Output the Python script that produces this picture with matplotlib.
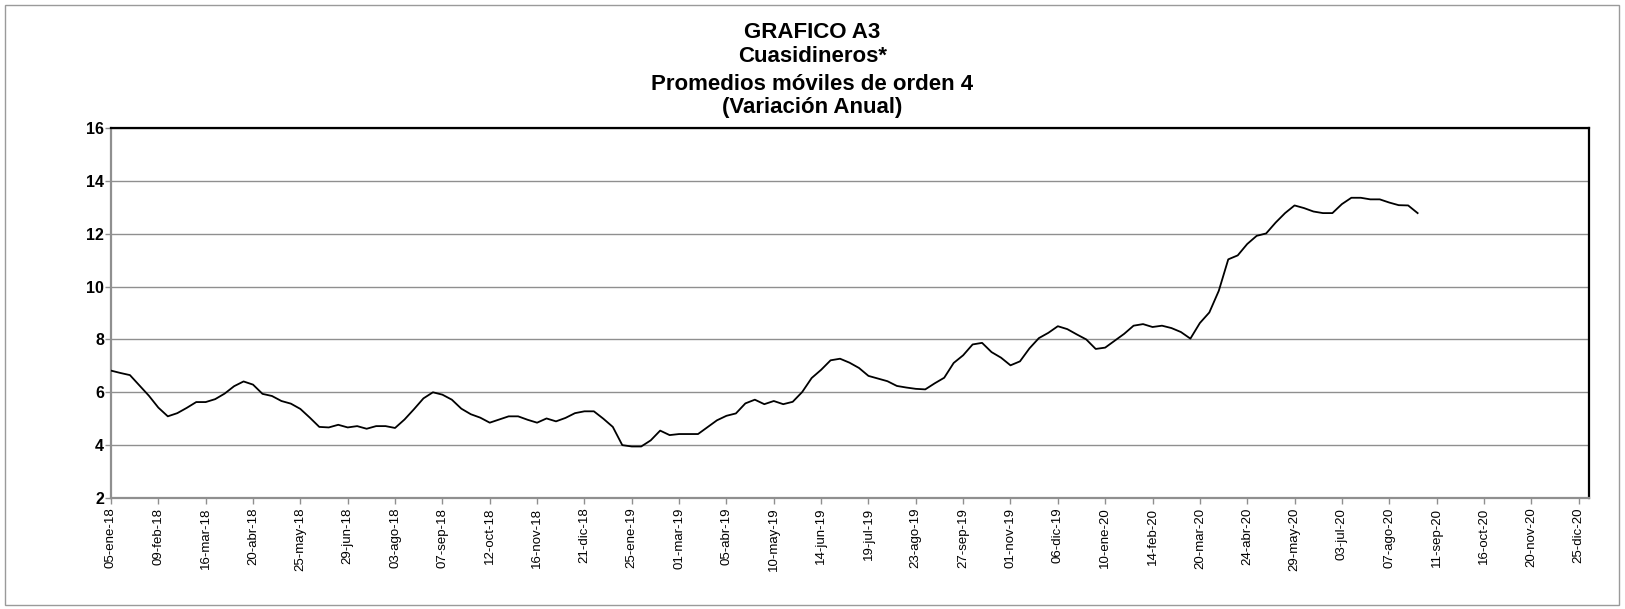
import matplotlib
matplotlib.use("Agg")
import matplotlib.pyplot as plt
from matplotlib.patches import Rectangle
import pandas as pd

plt.rcParams['font.family'] = ['Liberation Sans', 'DejaVu Sans']

title_lines = ["GRAFICO A3", "Cuasidineros*", "Promedios móviles de orden 4", "(Variación Anual)"]

start_date = "2018-01-05"
values = [
    6.82, 6.73, 6.65, 6.26, 5.87, 5.42, 5.09, 5.21, 5.41, 5.63,
    5.63, 5.74, 5.95, 6.23, 6.41, 6.29, 5.94, 5.86, 5.67, 5.57,
    5.37, 5.04, 4.69, 4.67, 4.77, 4.67, 4.72, 4.62, 4.72, 4.72,
    4.65, 4.97, 5.36, 5.77, 6.00, 5.91, 5.72, 5.38, 5.17, 5.04,
    4.85, 4.97, 5.09, 5.09, 4.96, 4.85, 5.01, 4.90, 5.03, 5.21,
    5.28, 5.28, 5.00, 4.69, 4.00, 3.95, 3.95, 4.18, 4.55, 4.38,
    4.42, 4.42, 4.42, 4.68, 4.94, 5.11, 5.20, 5.58, 5.72, 5.55,
    5.67, 5.55, 5.64, 6.01, 6.54, 6.85, 7.21, 7.27, 7.12, 6.92,
    6.62, 6.52, 6.42, 6.24, 6.18, 6.13, 6.11, 6.34, 6.55, 7.11,
    7.40, 7.81, 7.87, 7.52, 7.31, 7.02, 7.17, 7.66, 8.05, 8.25,
    8.50, 8.39, 8.19, 8.00, 7.64, 7.69, 7.95, 8.21, 8.52, 8.58,
    8.47, 8.52, 8.43, 8.28, 8.03, 8.62, 9.02, 9.84, 11.03, 11.18,
    11.61, 11.92, 12.01, 12.42, 12.78, 13.07, 12.97, 12.84, 12.78, 12.78,
    13.12, 13.36, 13.36, 13.30, 13.30, 13.18, 13.08, 13.07, 12.78,
]
tick_labels = [
    "05-ene-18", "09-feb-18", "16-mar-18", "20-abr-18", "25-may-18", "29-jun-18",
    "03-ago-18", "07-sep-18", "12-oct-18", "16-nov-18", "21-dic-18", "25-ene-19",
    "01-mar-19", "05-abr-19", "10-may-19", "14-jun-19", "19-jul-19", "23-ago-19",
    "27-sep-19", "01-nov-19", "06-dic-19", "10-ene-20", "14-feb-20", "20-mar-20",
    "24-abr-20", "29-may-20", "03-jul-20", "07-ago-20", "11-sep-20", "16-oct-20",
    "20-nov-20", "25-dic-20",
]
y_ticks = [2, 4, 6, 8, 10, 12, 14, 16]

dates = pd.date_range(start_date, periods=len(values), freq="7D")
tick_dates = pd.date_range(start_date, periods=len(tick_labels), freq="35D")

W, H = 1625, 609
fig = plt.figure(figsize=(W / 100, H / 100), dpi=100)
fig.patches.append(Rectangle((5 / W, 4 / H), 1 - 11 / W, 1 - 9 / H, transform=fig.transFigure,
                             fill=False, edgecolor="#9a9a9a", linewidth=1.0))

ax = fig.add_axes([111 / W, 1 - 498 / H, (1589 - 111) / W, (498 - 128) / H])
ax.plot(dates, values, color="black", linewidth=1.3, zorder=3)

ax.set_ylim(2, 16)
ax.set_yticks(y_ticks)
ax.set_yticklabels([str(v) for v in y_ticks], fontsize=11.5, fontweight="bold")
x0 = pd.Timestamp(start_date)
ax.set_xlim(x0, x0 + pd.Timedelta(days=7 * 156.1))
ax.set_xticks(tick_dates)
ax.set_xticklabels(tick_labels, rotation=90, fontsize=9.5)

ax.grid(axis="y", color="#8f8f8f", linewidth=1.0)
ax.set_axisbelow(True)
ax.tick_params(axis="x", direction="out", color="#8f8f8f", length=4, width=1.0, pad=3)
ax.tick_params(axis="y", direction="out", color="#8f8f8f", length=4, width=1.0, pad=1)
for s in ("top", "right"):
    ax.spines[s].set_color("black")
    ax.spines[s].set_linewidth(1.6)
for s in ("left", "bottom"):
    ax.spines[s].set_color("#8f8f8f")
    ax.spines[s].set_linewidth(1.6)

title_y = [33, 57, 85, 108]
for line, ty in zip(title_lines, title_y):
    fig.text(0.5, 1 - ty / H, line, ha="center", va="center",
             fontsize=16, fontweight="bold")

fig.savefig("out.png", dpi=100)
